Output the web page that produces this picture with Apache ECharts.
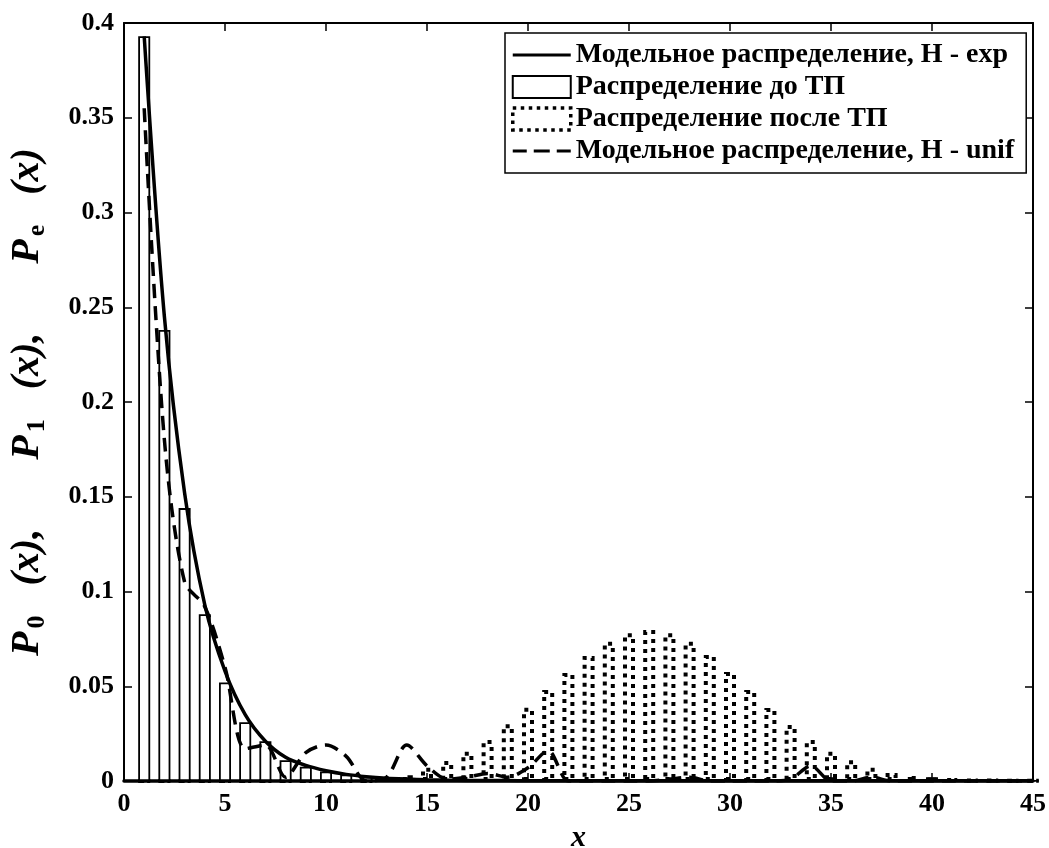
<!DOCTYPE html>
<html>
<head>
<meta charset="utf-8">
<script src="https://cdn.jsdelivr.net/npm/echarts@6/dist/echarts.min.js"></script>
<style>
  html, body { margin: 0; padding: 0; background: #fff; }
  #main { width: 1049px; height: 848px; }
</style>
</head>
<body>
<div id="main"></div>
<script>
const FONT = 'Liberation Serif';

// положения столбцов (x)
const bins = [1,2,3,4,5,6,7,8,9,10,11,12,13,14,15,16,17,18,19,20,21,22,23,24,25,26,27,28,29,30,31,32,33,34,35,36,37,38,39,40,41,42,43,44,45];

// Распределение до ТП (сплошные столбцы)
const beforeTP = [0.393,0.238,0.144,0.088,0.052,0.031,0.021,0.011,0.0075,0.005,0.0035,0.0023,0.0015,0.001,0.001,0.0008,0.0006,0.0005,0.0004,0.0003,0.0003,0.0002,0.0002,0.0002,0.0002,0.0002,0.0002,0.001,0.0002,0.0002,0.0002,0.0002,0.0002,0.0002,0.002,0.0002,0.0002,0.0002,0.0002,0.002,0.0002,0.0002,0.0002,0.0002,0.0002];

// Распределение после ТП (пунктирные столбцы)
const afterTP = [0,0,0,0,0,0,0,0,0,0,0,0,0.001,0.003,0.007,0.0106,0.0155,0.0216,0.030,0.0387,0.048,0.057,0.066,0.0735,0.078,0.0797,0.078,0.0735,0.0665,0.0575,0.048,0.0385,0.0296,0.0216,0.0155,0.011,0.007,0.0042,0.0026,0.0015,0.001,0.0006,0.0004,0.0003,0.0002];

// Модельное распределение, Н - exp
const modelExp = [0.393,0.245,0.152,0.093,0.058,0.035,0.021,0.0125,0.0082,0.0054,0.0035,0.0023,0.0015,0.001,0.0006,0.0004,0.0003,0.0002,0.0002,0.0001,0.0001,0.0001,0.0001,0.0001,0.0001,0.0001,0.0001,0.0001,0.0001,0.0001,0.0001,0.0001,0.0001,0.0001,0.0001,0.0001,0.0001,0.0001,0.0001,0.0001,0.0001,0.0001,0.0001,0.0001,0.0001];

// Модельное распределение, Н - unif
const modelUnif = [0.355,0.18,0.105,0.092,0.06,0.017,0.019,0.002,0.015,0.019,0.013,0,0.002,0.019,0.008,0.001,0.002,0.004,0.002,0.007,0.016,0,0,0,0,0,0.001,0.002,0,0,0,0,0.001,0.008,0,0,0.002,0,0,0,0,0,0,0,0];

const legendNames = [
  'Модельное распределение, Н - exp',
  'Распределение до ТП',
  'Распределение после ТП',
  'Модельное распределение, Н - unif'
];

function pairs(ys) { //пары [x, y] для осей типа value
  return bins.map((x, i) => [x, ys[i]]);
}

// иконки легенды (M-точки задают рамку 58x22, чтобы линия не растягивалась)
const ICON_LINE = 'path://M0,0 M58,22 M0,9.5 L58,9.5 L58,12.5 L0,12.5 Z';
const ICON_DASH = 'path://M0,0 M58,22 M0,9.5 L14,9.5 L14,12.5 L0,12.5 Z M21,9.5 L37,9.5 L37,12.5 L21,12.5 Z M44,9.5 L58,9.5 L58,12.5 L44,12.5 Z';

const chart = echarts.init(document.getElementById('main'), null, { renderer: 'canvas' });

function tickLabel() {
  return { color: '#000', fontFamily: FONT, fontWeight: 'bold', fontSize: 26, margin: 10 };
}
function axisLine(w) {
  return { show: true, onZero: false, lineStyle: { color: '#000', width: w } };
}
function axisTick() {
  return { show: true, inside: true, length: 8, lineStyle: { color: '#000', width: 1.5 } };
}

const option = {
  animation: false,
  backgroundColor: '#fff',
  grid: { left: 124, right: 16, top: 23, bottom: 67, containLabel: false, outerBoundsMode: 'none' },
  legend: {
    orient: 'vertical',
    left: 505,
    top: 33,
    padding: [8, 12, 8, 6],
    itemGap: 4,
    itemWidth: 58,
    itemHeight: 22,
    backgroundColor: '#fff',
    borderColor: '#000',
    borderWidth: 1.5,
    borderRadius: 0,
    data: [
      { name: legendNames[0], icon: ICON_LINE, itemStyle: { color: '#000', borderWidth: 0 } },
      { name: legendNames[1], icon: 'rect', itemStyle: { color: '#fff', borderColor: '#000', borderWidth: 2 } },
      { name: legendNames[2], icon: 'rect', itemStyle: { color: '#fff', borderColor: '#000', borderWidth: 3.5, borderType: [3.5, 4.5] } },
      { name: legendNames[3], icon: ICON_DASH, itemStyle: { color: '#000', borderWidth: 0 } }
    ],
    textStyle: { color: '#000', fontFamily: FONT, fontWeight: 'bold', fontSize: 28, lineHeight: 28 }
  },
  xAxis: [{
    type: 'value',
    min: 0, max: 45, interval: 5,
    name: 'x',
    nameLocation: 'middle',
    nameGap: 42,
    nameTextStyle: { color: '#000', fontFamily: FONT, fontWeight: 'bold', fontStyle: 'italic', fontSize: 30 },
    axisLine: axisLine(3.5),
    axisTick: axisTick(),
    axisLabel: tickLabel(),
    splitLine: { show: false }
  }, {
    type: 'value',
    position: 'top',
    min: 0, max: 45, interval: 5,
    axisLine: axisLine(2),
    axisTick: axisTick(),
    axisLabel: { show: false },
    splitLine: { show: false }
  }],
  yAxis: [{
    type: 'value',
    min: 0, max: 0.4, interval: 0.05,
    name: '{p|P}{s|0}{t|(x),}{p|P}{s|1}{t|(x),}{p|P}{s|e}{u|(x)}',
    nameLocation: 'middle',
    nameRotate: 90,
    nameGap: 74,
    nameTextStyle: {
      rich: {
        p: { fontFamily: FONT, fontWeight: 'bold', fontStyle: 'italic', fontSize: 40, color: '#000', lineHeight: 44 },
        s: { fontFamily: FONT, fontWeight: 'bold', fontSize: 26, color: '#000', lineHeight: 26, verticalAlign: 'bottom', padding: [0, 30, 0, 3] },
        t: { fontFamily: FONT, fontWeight: 'bold', fontStyle: 'italic', fontSize: 40, color: '#000', lineHeight: 44, padding: [0, 69, 0, 0] },
        u: { fontFamily: FONT, fontWeight: 'bold', fontStyle: 'italic', fontSize: 40, color: '#000', lineHeight: 44 }
      }
    },
    axisLine: axisLine(2),
    axisTick: axisTick(),
    axisLabel: tickLabel(),
    splitLine: { show: false }
  }, {
    type: 'value',
    position: 'right',
    min: 0, max: 0.4, interval: 0.05,
    axisLine: axisLine(2),
    axisTick: axisTick(),
    axisLabel: { show: false },
    splitLine: { show: false }
  }],
  series: [
    {
      name: legendNames[2],
      type: 'bar',
      xAxisIndex: 0, yAxisIndex: 0,
      barWidth: 12,
      barGap: '-100%',
      data: pairs(afterTP),
      itemStyle: { color: 'rgba(255,255,255,0)', borderColor: '#000', borderWidth: 4, borderType: [4, 5] },
      z: 2
    },
    {
      name: legendNames[1],
      type: 'bar',
      xAxisIndex: 0, yAxisIndex: 0,
      barWidth: 12,
      barGap: '-100%',
      data: pairs(beforeTP),
      itemStyle: { color: '#fff', borderColor: '#000', borderWidth: 1.8 },
      z: 3
    },
    {
      name: legendNames[0],
      type: 'line',
      xAxisIndex: 0, yAxisIndex: 0,
      data: pairs(modelExp),
      smooth: 0.3,
      symbol: 'none',
      lineStyle: { color: '#000', width: 3.5, type: 'solid' },
      itemStyle: { color: '#000' },
      z: 5
    },
    {
      name: legendNames[3],
      type: 'line',
      xAxisIndex: 0, yAxisIndex: 0,
      data: pairs(modelUnif),
      smooth: 0.3,
      symbol: 'none',
      lineStyle: { color: '#000', width: 3.5, type: [14, 8] },
      itemStyle: { color: '#000' },
      z: 4
    }
  ]
};

chart.setOption(option);
</script>
</body>
</html>
